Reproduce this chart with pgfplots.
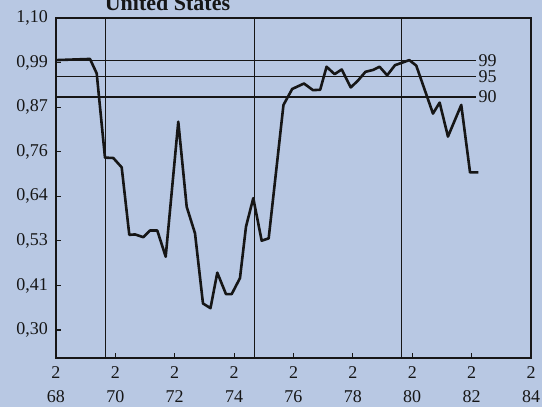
\documentclass[border=0pt]{standalone}
\usepackage{fontspec}
\setmainfont{Liberation Serif}
\usepackage{pgfplots}
\pgfplotsset{compat=1.18}
\definecolor{paper}{HTML}{B8C8E3}
\definecolor{ink}{HTML}{161616}

\begin{document}
\begin{tikzpicture}
\path[use as bounding box] (-56pt,-49pt) rectangle (486pt,358pt);
\clip (-56pt,-49pt) rectangle (486pt,358pt);
\fill[paper] (-56pt,-49pt) rectangle (486pt,358pt);
\begin{axis}[
  at={(0pt,0pt)}, anchor=south west,
  scale only axis, width=475pt, height=340pt,
  xmin=68, xmax=84, ymin=0.2282, ymax=1.10,
  axis line style={ink, line width=1.2pt},
  tick style={ink, line width=1.2pt},
  tick align=inside, major tick length=5pt,
  xtick pos=bottom, ytick pos=left,
  xtick={68,70,...,84},
  xticklabels={2\\68,2\\70,2\\72,2\\74,2\\76,2\\78,2\\80,2\\82,2\\84},
  xticklabel style={align=center, font=\fontsize{18}{24}\selectfont, text=ink, inner sep=0pt, yshift=-8pt},
  ytick={0.3,0.414286,0.528571,0.642857,0.757143,0.871429,0.985714,1.1},
  yticklabels={{0,30},{0,41},{0,53},{0,64},{0,76},{0,87},{0,99},{1,10}},
  yticklabel style={font=\fontsize{18}{22}\selectfont, text=ink, inner sep=0pt, xshift=-8pt},
  clip=false,
]
% horizontal reference levels with their percent labels
\addplot[ink, line width=1.1pt] coordinates {(68,0.99) (82.146,0.99)}
  node[anchor=west, inner sep=0pt, xshift=2pt, font=\fontsize{18}{20}\selectfont, text=ink] {99};
\addplot[ink, line width=1.1pt] coordinates {(68,0.949) (82.146,0.949)}
  node[anchor=west, inner sep=0pt, xshift=2pt, font=\fontsize{18}{20}\selectfont, text=ink] {95};
\addplot[ink, line width=1.1pt] coordinates {(68,0.8975) (82.146,0.8975)}
  node[anchor=west, inner sep=0pt, xshift=2pt, font=\fontsize{18}{20}\selectfont, text=ink] {90};
% vertical period markers
\addplot[ink, line width=1pt] coordinates {(69.684,0.2282) (69.684,1.1)};
\addplot[ink, line width=1pt] coordinates {(74.703,0.2282) (74.703,1.1)};
\addplot[ink, line width=1pt] coordinates {(79.654,0.2282) (79.654,1.1)};
% main series
\addplot[ink, line width=2.6pt, line join=round] coordinates {
(68.000,0.992) (69.145,0.995) (69.371,0.958) (69.650,0.742) (69.930,0.741)
(70.213,0.717) (70.469,0.544) (70.661,0.545) (70.940,0.538) (71.166,0.555)
(71.412,0.555) (71.695,0.488) (72.119,0.834) (72.402,0.616) (72.682,0.548)
(72.951,0.368) (73.204,0.356) (73.433,0.447) (73.726,0.392) (73.918,0.392)
(74.197,0.433) (74.400,0.565) (74.645,0.638) (74.928,0.529) (75.164,0.535)
(75.662,0.877) (75.956,0.918) (76.353,0.932) (76.656,0.915) (76.899,0.916)
(77.114,0.975) (77.384,0.956) (77.623,0.968) (77.929,0.922) (78.165,0.939)
(78.424,0.962) (78.687,0.967) (78.899,0.975) (79.155,0.953) (79.418,0.979)
(79.644,0.985) (79.900,0.992) (80.135,0.978) (80.698,0.855) (80.923,0.883)
(81.203,0.796) (81.651,0.877) (81.947,0.704) (82.224,0.704)
};
\end{axis}
% heavier left and bottom spines
\draw[ink, line width=2.2pt, line cap=rect] (0pt,340pt) -- (0pt,0pt) -- (475pt,0pt);
\node[anchor=base, font=\bfseries\fontsize{22}{24}\selectfont, text=ink] at (111.5pt,347pt) {United States};
\end{tikzpicture}
\end{document}
